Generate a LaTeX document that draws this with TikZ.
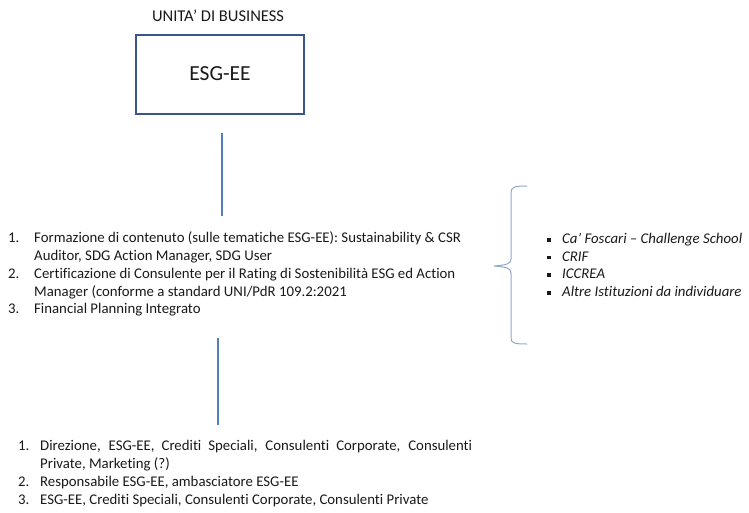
\documentclass[tikz,border=0pt]{standalone}
\usepackage{fontspec}
\setmainfont{Carlito}[Ligatures=NoCommon]
\usepackage{enumitem}

\definecolor{bordoblu}{RGB}{58,86,136}
\definecolor{lineablu}{RGB}{79,129,189}
\definecolor{graffablu}{RGB}{143,168,200}
\definecolor{testo}{RGB}{25,25,25}

\begin{document}
\begin{tikzpicture}[
    x=1pt, y=-1pt,
    text=testo,
	titolo/.style={
	  inner sep=0pt,
	  font=\fontsize{16.5}{19}\selectfont
	},
	unita/.style={
	  rectangle,
	  minimum width=168pt,
	  minimum height=79pt,
	  line width=2pt,
	  draw=bordoblu,
	  font=\fontsize{21.5}{25}\selectfont
	},
	elenco/.style={
	  anchor=north west,
	  inner sep=0pt,
	  align=justify,
	  font=\fontsize{14.8}{17.7}\selectfont
	},
 	line/.style={draw=lineablu, line width=2pt},
 	graffa/.style={draw=graffablu, line width=1pt}
	]
	\useasboundingbox (0, 0) rectangle (749, 512);
	\node at (218, 16) [titolo] (titolo) {UNITA’ DI BUSINESS};
	\node at (220, 74) [unita] (esgee) {ESG-EE};
	\node at (8, 225) [elenco, text width=460pt] (formazione) {%
	  \begin{enumerate}[nosep, leftmargin=26pt, labelwidth=12pt, labelsep=14pt, align=left]
	  \item Formazione di contenuto (sulle tematiche ESG-EE): Sustainability \& CSR\newline
	    Auditor, SDG Action Manager, SDG User
	  \item Certificazione di Consulente per il Rating di Sostenibilità ESG ed Action\newline
	    Manager (conforme a standard UNI/PdR 109.2:2021
	  \item Financial Planning Integrato
	  \end{enumerate}};
	\node at (536, 225.5) [elenco, text width=212pt] (partner) {%
	  \begin{itemize}[nosep, leftmargin=26pt, labelwidth=4pt, labelsep=11pt, align=left,
	    label={\raisebox{1.8pt}{\rule{3.8pt}{3.8pt}}}]
	  \itshape
	  \item Ca’ Foscari – Challenge School
	  \item CRIF
	  \item ICCREA
	  \item Altre Istituzioni da individuare
	  \end{itemize}};
	\node at (18, 433) [elenco, text width=454pt] (risorse) {%
	  \begin{enumerate}[nosep, leftmargin=22pt, labelwidth=12pt, labelsep=10pt, align=left]
	  \item Direzione, ESG-EE, Crediti Speciali, Consulenti Corporate, Consulenti\linebreak
	    Private, Marketing (?)
	  \item Responsabile ESG-EE, ambasciatore ESG-EE
	  \item ESG-EE, Crediti Speciali, Consulenti Corporate, Consulenti Private
	  \end{enumerate}};
	\path [line, shorten <=18pt, shorten >=9pt] ([xshift=2pt]esgee.south) -- ([xshift=2pt]esgee.south |- formazione.north);
	\path [line, shorten <=22pt, shorten >=8pt] ([xshift=-2pt]esgee.south |- formazione.south) -- ([xshift=-2pt]esgee.south |- risorse.north);
	% graffa
	\path [graffa] (527, 186) .. controls (514, 186) and (511, 187) .. (511, 193)
	  -- (511, 259) .. controls (511, 264) and (506, 265) .. (494, 266)
	  .. controls (506, 267) and (511, 268) .. (511, 273)
	  -- (511, 338) .. controls (511, 343) and (514, 344) .. (527, 344);
  \end{tikzpicture}
\end{document}
